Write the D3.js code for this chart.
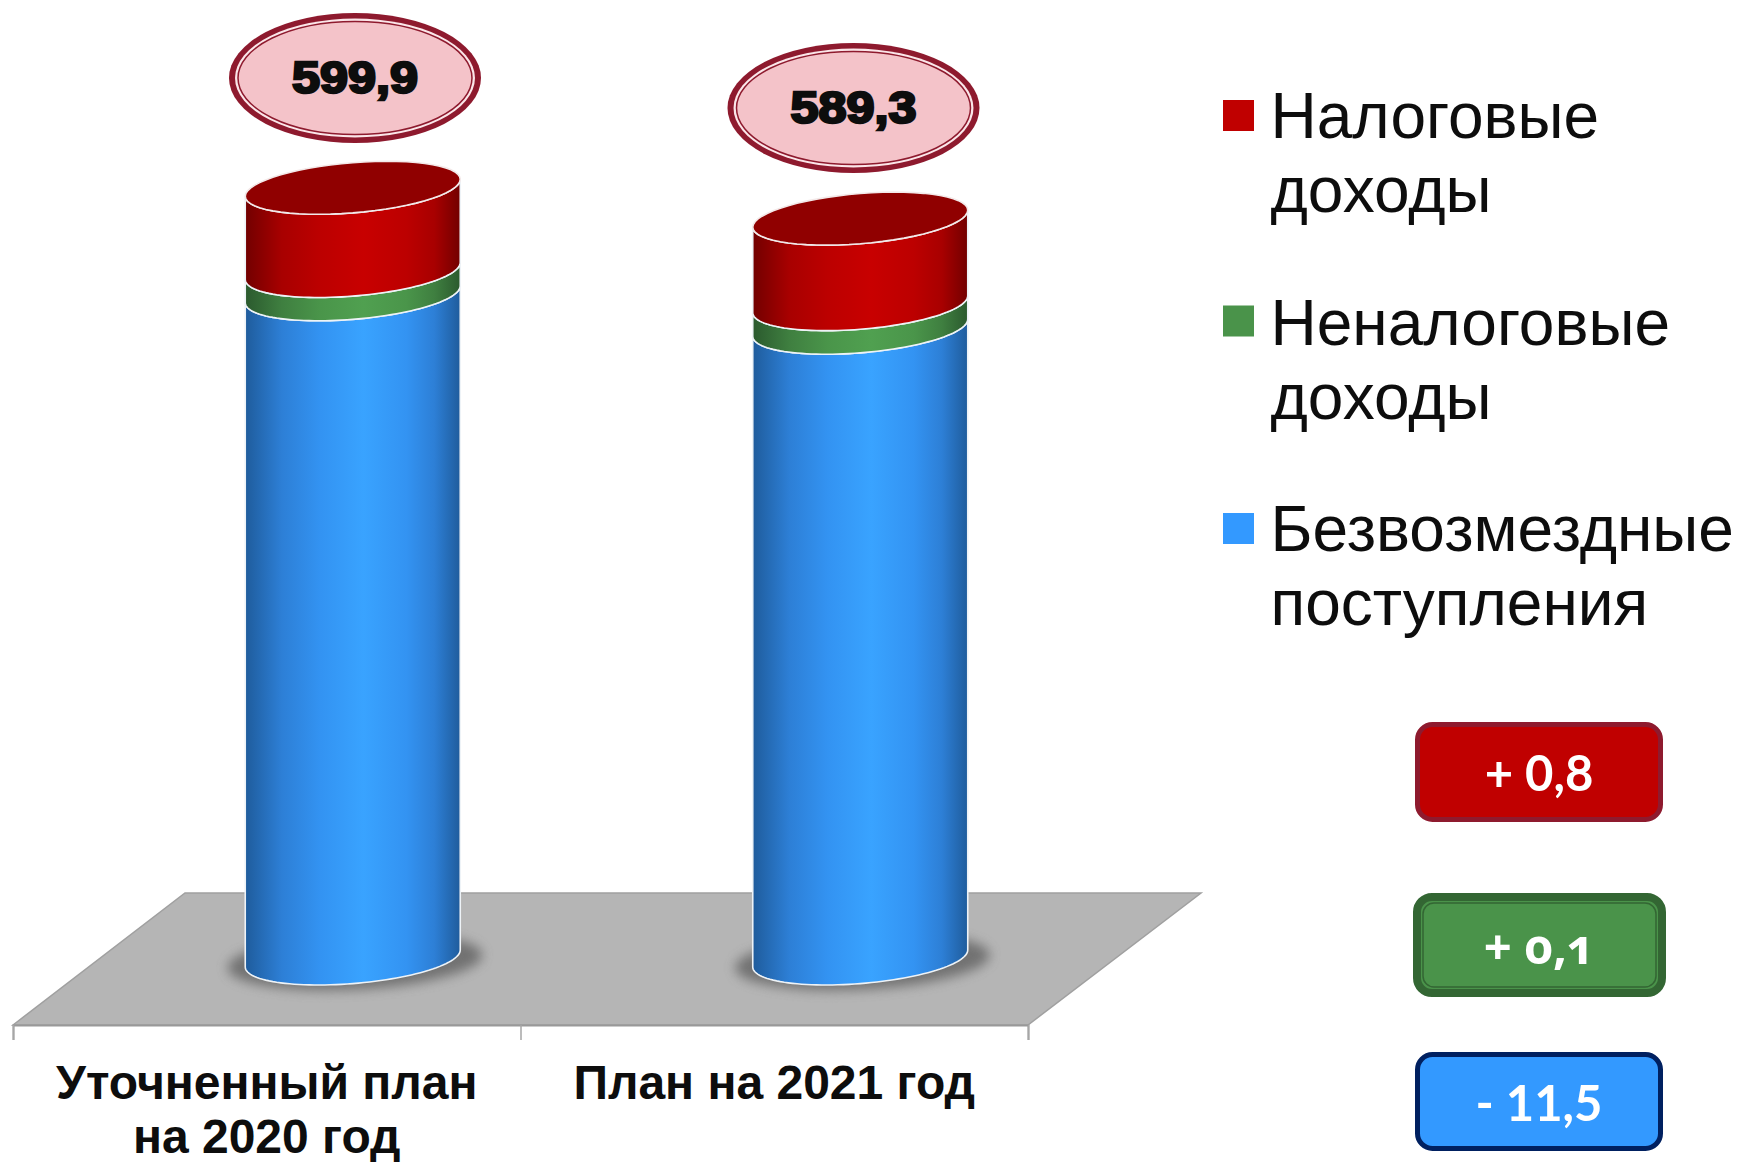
<!DOCTYPE html>
<html>
<head>
<meta charset="utf-8">
<script src="https://cdnjs.cloudflare.com/ajax/libs/d3/7.8.5/d3.min.js"></script>
<style>
html, body { margin: 0; padding: 0; background: #fff; }
svg { display: block; }
text { font-family: "Liberation Sans", Arial, sans-serif; fill: #0d0d0d; }
</style>
</head>
<body>
<div id="chart"></div>
<script>
// values
const categories = [["Уточненный план", "на 2020 год"], ["План на 2021 год"]];
const totals = [599.9, 589.3];
const totalLabels = ["599,9", "589,3"];
const grants = [563.3, 551.8];
const nonTax = [8.0, 8.1];
const tax = [28.6, 29.4];
const legendLabels = [["Налоговые", "доходы"], ["Неналоговые", "доходы"], ["Безвозмездные", "поступления"]];
const changes = ["+ 0,8", "+ 0,1", "- 11,5"];

const width = 1738, height = 1162;
const svg = d3.select("#chart").append("svg").attr("width", width).attr("height", height);
const defs = svg.append("defs");

// horizontal shading of the cylinders
function shade(id, edge, dim, mid, peak) {
    const g = defs.append("linearGradient").attr("id", id);
    [[0, edge], [0.17, dim], [0.35, mid], [0.55, peak], [0.75, mid], [0.88, dim], [1, edge]].forEach(s => {
        g.append("stop").attr("offset", s[0]).attr("stop-color", s[1]);
    });
}
shade("gradTax", "#720000", "#a80000", "#bc0000", "#c80000");
shade("gradNon", "#2b5a2e", "#3f7f40", "#4a954a", "#50a050");
shade("gradGrant", "#1f5c9c", "#2d7fd6", "#3393f2", "#39a3ff");
defs.append("filter").attr("id", "blur")
    .attr("x", "-20%").attr("y", "-50%").attr("width", "140%").attr("height", "200%")
    .append("feGaussianBlur").attr("stdDeviation", 6);

// scales (value axis of the original starts well above zero)
const y = d3.scaleLinear().domain([335, 600]).range([958.5, 187.5]);
const xBand = d3.scaleBand().domain(d3.range(categories.length)).range([13, 1028]);
const xEdge = d3.scaleLinear().domain([0, categories.length]).range([13, 1028]);
const depthX = 172, depthTop = 893, floorY = 1025;
const barShift = 86, rx = 107.5, ry = 25.1, skew = 8.5;
const bubbleX = [355, 853.5], bubbleY = [78, 108];

// floor
svg.append("path")
    .attr("d", d3.line()([
        [xEdge(0), floorY], [xEdge(0) + depthX, depthTop],
        [xEdge(2) + depthX + 1, depthTop], [xEdge(2), floorY]
    ]) + "Z")
    .attr("fill", "#b5b5b5")
    .attr("stroke", "#a0a0a0")
    .attr("stroke-width", 1.5);

// axis with ticks on band edges
const axis = svg.append("g")
    .attr("transform", `translate(0,${floorY})`)
    .call(d3.axisBottom(xEdge).tickValues(d3.range(categories.length + 1)).tickSize(15).tickFormat(""));
axis.select(".domain").attr("stroke", "#999").attr("stroke-width", 2);
axis.selectAll(".tick line").attr("stroke", "#a6a6a6").attr("stroke-width", 1.5);

const arcLine = d3.line();
function arc(cx, cy, from, to) {
    return d3.range(0, 61).map(i => {
        const t = from + (to - from) * i / 60;
        return [cx + rx * Math.cos(t), cy + ry * Math.sin(t) - skew * Math.cos(t)];
    });
}
// side of one segment: front edge of the bottom rim, then front edge of the top rim back
function sidePath(cx, y0, y1) {
    const low = arc(cx, y0, Math.PI, 0);
    const high = arc(cx, y1, 0, Math.PI);
    return arcLine(low.concat(high)) + "Z";
}

categories.forEach((c, i) => {
    const cx = xBand(i) + xBand.bandwidth() / 2 + barShift;
    const g = svg.append("g");

    g.append("ellipse")
        .attr("cx", cx + 2).attr("cy", y(335) + 3)
        .attr("rx", rx + 20).attr("ry", ry + 3)
        .attr("transform", `rotate(-3 ${cx} ${y(335)})`)
        .attr("fill", "#666")
        .attr("opacity", 0.85)
        .attr("filter", "url(#blur)");

    const stack = [
        { from: 335, to: grants[i], fill: "url(#gradGrant)" },
        { from: grants[i], to: grants[i] + nonTax[i], fill: "url(#gradNon)" },
        { from: grants[i] + nonTax[i], to: grants[i] + nonTax[i] + tax[i], fill: "url(#gradTax)" }
    ];
    g.selectAll("path.side").data(stack).enter().append("path")
        .attr("class", "side")
        .attr("d", d => sidePath(cx, y(d.from), y(d.to)))
        .attr("fill", d => d.fill)
        .attr("stroke", "#eef3f7")
        .attr("stroke-width", 1.6);

    g.append("path")
        .attr("d", arcLine(arc(cx, y(totals[i]), 0, 2 * Math.PI)) + "Z")
        .attr("fill", "#900000")
        .attr("stroke", "#f3e9e9")
        .attr("stroke-width", 1.6);

    // total bubble
    const bx = bubbleX[i], by = bubbleY[i];
    g.append("ellipse").attr("cx", bx).attr("cy", by).attr("rx", 126).attr("ry", 65)
        .attr("fill", "#8e1a2e");
    g.append("ellipse").attr("cx", bx).attr("cy", by).attr("rx", 120).attr("ry", 59.5)
        .attr("fill", "#fbe6e9");
    g.append("ellipse").attr("cx", bx).attr("cy", by).attr("rx", 117).attr("ry", 56.5)
        .attr("fill", "#f4c3c9").attr("stroke", "#8e1a2e").attr("stroke-width", 1.5);
    g.append("text")
        .attr("x", bx).attr("y", by + 15)
        .attr("text-anchor", "middle")
        .attr("font-size", 44)
        .attr("font-weight", "bold")
        .attr("stroke", "#0d0d0d").attr("stroke-width", 2.5)
        .attr("textLength", 126).attr("lengthAdjust", "spacingAndGlyphs")
        .text(totalLabels[i]);

    // category label
    g.append("text")
        .attr("text-anchor", "middle")
        .attr("font-size", 48)
        .attr("font-weight", "bold")
        .selectAll("tspan").data(c).enter().append("tspan")
        .attr("x", xBand(i) + xBand.bandwidth() / 2)
        .attr("y", (d, j) => 1099 + j * 54)
        .text(d => d);
});

// legend
const legendColors = ["#c00000", "#4a934a", "#3399ff"];
const legendY = d3.scalePoint().domain(d3.range(3)).range([138, 551]);
const legend = svg.selectAll("g.legend").data(legendLabels).enter().append("g").attr("class", "legend");
legend.append("rect")
    .attr("x", 1223).attr("y", (d, i) => legendY(i) - 38 - (i === 1 ? 1 : 0))
    .attr("width", 31).attr("height", 31)
    .attr("fill", (d, i) => legendColors[i]);
legend.append("text")
    .attr("font-size", 64)
    .selectAll("tspan").data((d, i) => d.map(t => ({ t, i }))).enter().append("tspan")
    .attr("x", 1270.5)
    .attr("y", (d, j) => legendY(d.i) + j * 74)
    .text(d => d.t);

// change badges
const badges = [
    { x: 1417.5, y: 724.5, w: 243, h: 95, stroke: "#8e1a2e", fill: "#c00000", sw: 5, base: 66 },
    { x: 1417, y: 897, w: 245, h: 96, stroke: "#336633", fill: "#4a934a", sw: 8, base: 67 },
    { x: 1417.5, y: 1054.5, w: 243, h: 94, stroke: "#002060", fill: "#3399ff", sw: 5, base: 66 }
];
const badge = svg.selectAll("g.badge").data(badges).enter().append("g").attr("class", "badge");
badge.append("rect")
    .attr("x", d => d.x).attr("y", d => d.y)
    .attr("width", d => d.w).attr("height", d => d.h)
    .attr("rx", 15)
    .attr("fill", d => d.fill).attr("stroke", d => d.stroke).attr("stroke-width", d => d.sw);
badge.filter((d, i) => i === 1).append("rect")
    .attr("x", d => d.x + 6).attr("y", d => d.y + 6)
    .attr("width", d => d.w - 12).attr("height", d => d.h - 12)
    .attr("rx", 11)
    .attr("fill", "none").attr("stroke", "#336633").attr("stroke-width", 1.5);
badge.append("text")
    .attr("x", d => d.x + d.w / 2)
    .attr("y", d => d.y + d.base)
    .attr("text-anchor", "middle")
    .attr("font-size", 49)
    .attr("font-weight", "bold")
    .style("font-family", (d, i) => i === 1 ? "'Open Sans', sans-serif" : "Lato, sans-serif")
    .style("fill", "#fff")
    .style("font-feature-settings", (d, i) => i === 1 ? "'onum'" : null)
    .text((d, i) => changes[i]);
</script>
</body>
</html>
